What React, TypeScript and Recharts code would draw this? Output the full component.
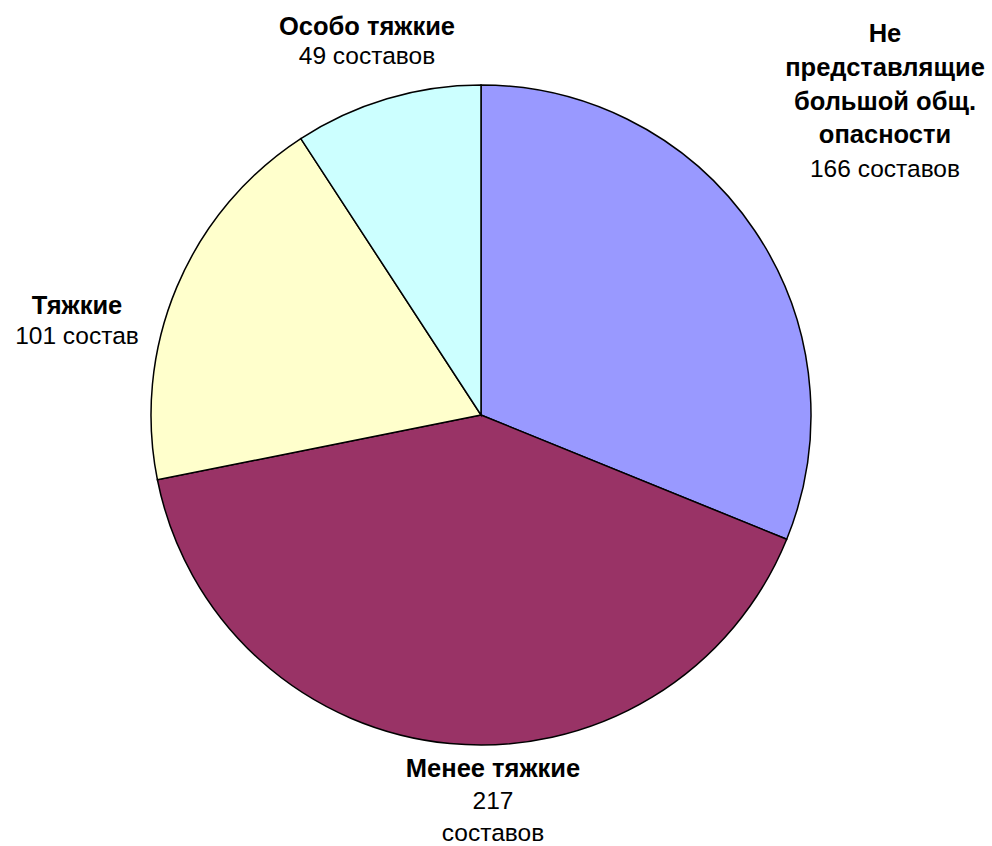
import { PieChart, Pie, Cell } from 'recharts';

const categories = [
  ['Не', 'представлящие', 'большой общ.', 'опасности'],
  ['Менее тяжкие'],
  ['Тяжкие'],
  ['Особо тяжкие'],
];
const values = [166, 217, 101, 49];
const countLabels = [['166 составов'], ['217', 'составов'], ['101 состав'], ['49 составов']];
const colors = ['#9999FF', '#993366', '#FFFFCC', '#CCFFFF'];

// label block placement relative to pie centre: [dx, first baseline dy, line height]
const labelLayout = [
  [404, -373, 33.8],
  [12, 362, 32],
  [-404, -101, 30],
  [-114, -380, 29],
];

const data = values.map((v, i) => ({ name: categories[i].join(' '), value: v }));

const renderLabel = (props: any) => {
  const { cx, cy, index } = props;
  const [dx, dy, lh] = labelLayout[index];
  const bold = categories[index];
  const normal = countLabels[index];
  const x = cx + dx;
  return (
    <text
      x={x}
      y={cy + dy}
      textAnchor="middle"
      fontFamily="'Liberation Sans', Arial, sans-serif"
      fontSize={24.5}
      fill="#000"
    >
      {bold.map((line, i) => (
        <tspan key={'b' + i} x={x} y={cy + dy + i * lh} fontWeight="bold" fontSize={25.5}>
          {line}
        </tspan>
      ))}
      {normal.map((line, i) => (
        <tspan key={'n' + i} x={x} y={cy + dy + (bold.length + i) * lh}>
          {line}
        </tspan>
      ))}
    </text>
  );
};

export default function App() {
  return (
    <div style={{ position: 'absolute', left: 0, top: 0, background: '#fff' }}>
      <PieChart width={992} height={846} margin={{ top: 0, right: 0, bottom: 0, left: 0 }}>
        <Pie
          data={data}
          dataKey="value"
          cx={481}
          cy={415}
          outerRadius={330}
          startAngle={90}
          endAngle={-270}
          stroke="#000"
          strokeWidth={1.5}
          label={renderLabel}
          labelLine={false}
          isAnimationActive={false}
        >
          {data.map((d, i) => (
            <Cell key={d.name} fill={colors[i]} />
          ))}
        </Pie>
      </PieChart>
    </div>
  );
}
